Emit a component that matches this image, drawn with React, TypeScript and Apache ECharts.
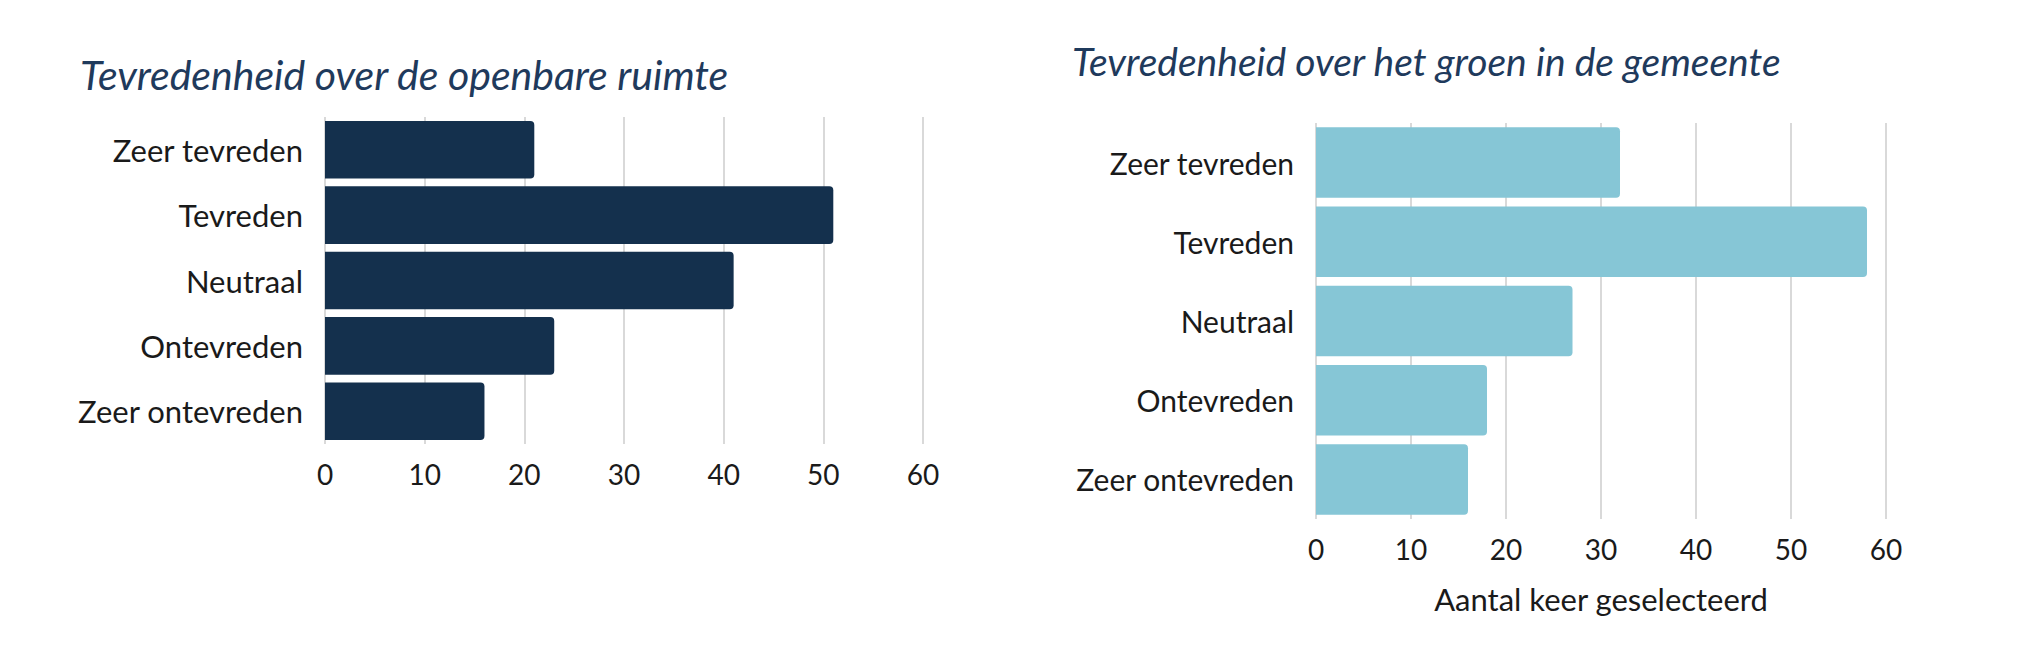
import React, { useEffect, useRef } from "react";
import * as echarts from "echarts";

// Answer categories, top to bottom
const categories = [
  "Zeer tevreden",
  "Tevreden",
  "Neutraal",
  "Ontevreden",
  "Zeer ontevreden",
];

// Number of times each answer was selected
const openbareRuimte = [21, 51, 41, 23, 16];
const groenGemeente = [32, 58, 27, 18, 16];

const xTicksMax = 60;
const xTickStep = 10;

const titleLeft = "Tevredenheid over de openbare ruimte";
const titleRight = "Tevredenheid over het groen in de gemeente";
const xAxisName = "Aantal keer geselecteerd";

const FONT = "Lato, 'Noto Sans', sans-serif";
const TEXT = "#1a1a1a";
const GRID_LINE = "#d9d9d9";

export default function App() {
  const ref = useRef<HTMLDivElement>(null);

  useEffect(() => {
    document.body.style.margin = "0";
    if (!ref.current) return;
    const chart = echarts.init(ref.current, undefined, { renderer: "svg" });

    const valueAxis = (gridIndex: number, withName: boolean) => ({
      type: "value" as const,
      gridIndex,
      min: 0,
      max: xTicksMax,
      interval: xTickStep,
      axisLine: { show: false },
      axisTick: { show: false },
      axisLabel: {
        fontFamily: FONT,
        fontSize: 28,
        color: TEXT,
        margin: 16,
      },
      splitLine: { show: true, lineStyle: { color: GRID_LINE, width: 2 } },
      ...(withName
        ? {
            name: xAxisName,
            nameLocation: "middle" as const,
            nameGap: 64,
            nameTextStyle: { fontFamily: FONT, fontSize: 31, color: TEXT },
          }
        : {}),
    });

    const categoryAxis = (gridIndex: number, fontSize: number) => ({
      type: "category" as const,
      gridIndex,
      data: categories,
      inverse: true,
      axisLine: { show: false },
      axisTick: { show: false },
      axisLabel: {
        fontFamily: FONT,
        fontSize,
        color: TEXT,
        margin: 22,
      },
      splitLine: { show: false },
    });

    chart.setOption({
      animation: false,
      backgroundColor: "#ffffff",
      graphic: [
        {
          type: "text",
          x: 80,
          y: 74,
          style: {
            text: titleLeft,
            font: `italic 41px ${FONT}`,
            fill: "#1f3a5c",
            verticalAlign: "middle",
          },
        },
        {
          type: "text",
          x: 1072,
          y: 61,
          style: {
            text: titleRight,
            font: `italic 39px ${FONT}`,
            fill: "#1f3a5c",
            verticalAlign: "middle",
          },
        },
      ],
      grid: [
        { left: 325, width: 598, top: 117, height: 327, containLabel: false },
        { left: 1316, width: 570, top: 123, height: 396, containLabel: false },
      ],
      xAxis: [valueAxis(0, false), valueAxis(1, true)],
      yAxis: [categoryAxis(0, 31), categoryAxis(1, 30)],
      series: [
        {
          type: "bar",
          xAxisIndex: 0,
          yAxisIndex: 0,
          data: openbareRuimte,
          barCategoryGap: "12%",
          itemStyle: { color: "#14304d", borderRadius: [0, 4, 4, 0] },
        },
        {
          type: "bar",
          xAxisIndex: 1,
          yAxisIndex: 1,
          data: groenGemeente,
          barCategoryGap: "11%",
          itemStyle: { color: "#86c6d6", borderRadius: [0, 4, 4, 0] },
        },
      ],
    });

    return () => chart.dispose();
  }, []);

  return <div ref={ref} style={{ width: 2029, height: 646 }} />;
}
